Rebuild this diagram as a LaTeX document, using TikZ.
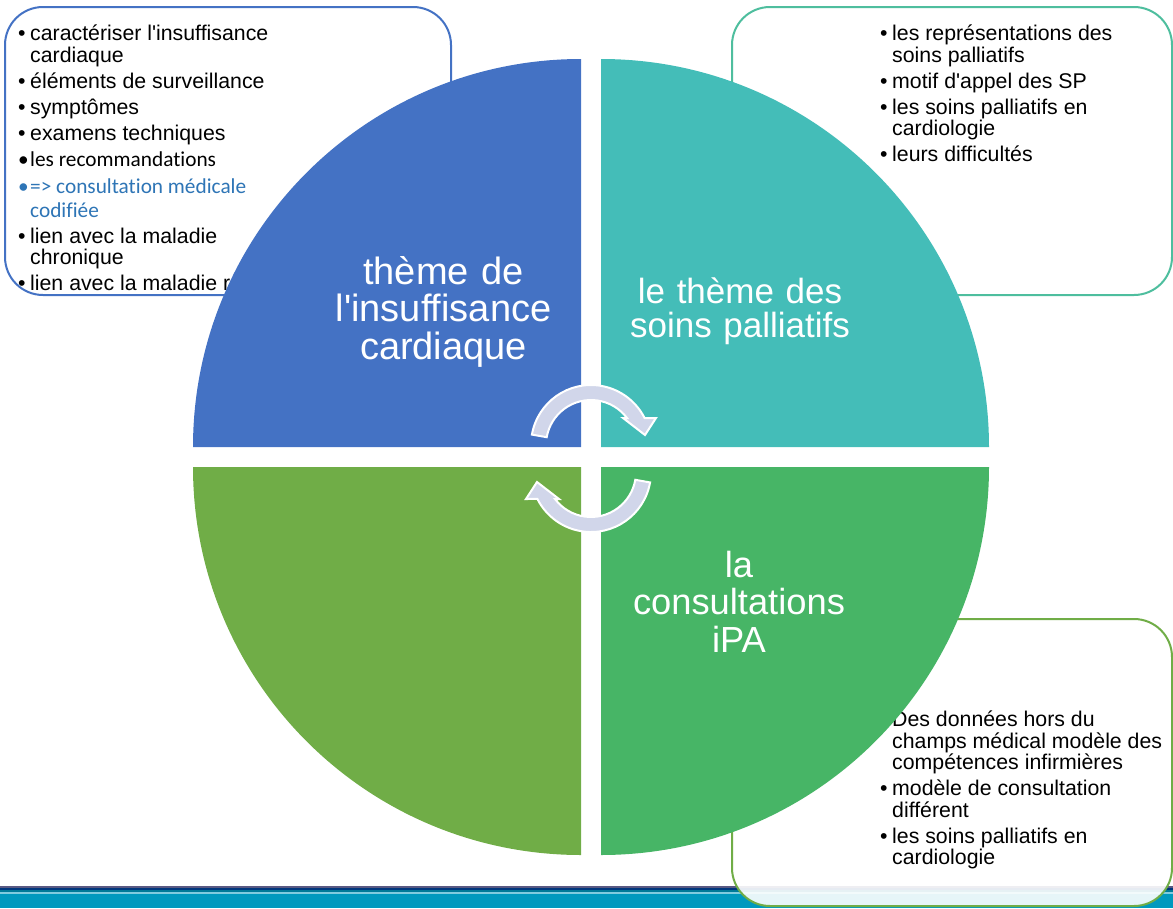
\documentclass[tikz,border=0pt]{standalone}
\usepackage{fontspec}
\setmainfont{Liberation Sans}
\newfontfamily\carlito[Ligatures=NoCommon]{Carlito}
\usetikzlibrary{positioning}

\definecolor{bleuIC}{RGB}{68,114,196}
\definecolor{turquoiseSP}{RGB}{68,189,184}
\definecolor{vertGauche}{RGB}{112,173,71}
\definecolor{vertIPA}{RGB}{71,181,102}
\definecolor{cadreSP}{RGB}{78,190,158}
\definecolor{bleuLien}{RGB}{46,117,182}
\definecolor{flecheFond}{RGB}{209,214,234}
\definecolor{bandeBleue}{RGB}{0,153,190}

\hyphenpenalty=10000
\exhyphenpenalty=10000
\newcommand{\espacefixe}{\spaceskip=\fontdimen2\font\relax}
\newcommand{\puce}[1]{\par\normalfont\fontsize{21.3}{21.5}\selectfont\espacefixe\parskip=4.5pt\hangindent=12pt\hangafter=1\noindent\color{black}\rule{0pt}{16pt}\makebox[12pt][l]{\textbullet}#1}
\newcommand{\pucec}[2]{\par\carlito\fontsize{21.3}{24}\selectfont\espacefixe\parskip=2.5pt\hangindent=12pt\hangafter=1\noindent\color{#1}\rule{0pt}{16pt}\makebox[12pt][l]{\textbullet}#2}

\begin{document}
\begin{tikzpicture}[x=1pt, y=-1pt,
  cadre/.style={line width=2pt, rounded corners=38pt, fill=white},
  liste/.style={anchor=base west, inner sep=0pt, text width=284pt, align=left},
  theme/.style={anchor=base, inner sep=0pt, text width=300pt, align=center, text=white},
  fleche/.style={fill=flecheFond, draw=white, line width=2pt}]
\useasboundingbox (0,0) rectangle (1173,908);

% bande du bas
\fill[bandeBleue] (0,893.5) rectangle (1173,908);
\fill[black!45!blue!30!gray] (0,885.5) rectangle (1173,887.5);
\fill[blue!40!teal!70!black] (0,887.5) rectangle (1173,890);
\fill[bandeBleue!80!black] (0,890) rectangle (1173,891.5);
\fill[bandeBleue!50!white] (0,891.5) rectangle (1173,893.5);

% cadres
\draw[cadre, draw=bleuIC] (5,7) rectangle (451,295);
\draw[cadre, draw=cadreSP] (732,7) rectangle (1172,295);
\draw[cadre, draw=vertGauche, fill opacity=0.9] (732,619) rectangle (1172,906);

% listes
\node[liste] (listeIC) at (18,14.5) {%
  \puce{caractériser l\textquotesingle insuffisance cardiaque}
  \puce{éléments de surveillance}
  \puce{symptômes}
  \puce{examens techniques}
  \pucec{black}{les recommandations}
  \pucec{bleuLien}{=> consultation médicale codifiée}
  \puce{lien avec la maladie chronique}
  \puce{lien avec la maladie r}\par};
\node[liste] (listeSP) at (880,14.5) {%
  \puce{les représentations des soins palliatifs}
  \puce{motif d\textquotesingle appel des SP}
  \puce{les soins palliatifs en cardiologie}
  \puce{leurs difficultés}\par};
\node[liste] (listeIPA) at (880,700.5) {%
  \puce{Des données hors du champs médical modèle des compétences infirmières}
  \puce{modèle de consultation différent}
  \puce{les soins palliatifs en cardiologie}\par};

% quadrants
\fill[bleuIC] (581,447) -- (193,447) arc[start angle=180, end angle=270, radius=388] -- cycle;
\fill[turquoiseSP] (601,447) -- (601,59) arc[start angle=270, end angle=360, radius=388] -- cycle;
\fill[vertGauche] (581,467) -- (581,855) arc[start angle=90, end angle=180, radius=388] -- cycle;
\fill[vertIPA] (601,467) -- (989,467) arc[start angle=0, end angle=90, radius=388] -- cycle;

% titres
\node[theme, font=\fontsize{38}{37.5}\selectfont\espacefixe] (themeIC) at (443.5,284) {thème de\\l\textquotesingle insuffisance\\cardiaque};
\node[theme, font=\fontsize{35}{34}\selectfont\espacefixe] (themeSP) at (740,303) {le thème des\\soins palliatifs};
\node[theme, font=\fontsize{36.3}{37.5}\selectfont\espacefixe] (themeIPA) at (739,577) {la\\consultations\\iPA};

% fleches circulaires
\begin{scope}[shift={(591,445)}, yscale=-1]
  \filldraw[fleche] (170:60) arc[start angle=170, end angle=26.7, radius=60] -- (65,27) -- (54,10) -- (32,27) -- (36,27) arc[start angle=36.9, end angle=170, radius=45] -- cycle;
\end{scope}
\begin{scope}[shift={(591,472)}, yscale=-1, rotate=180]
  \filldraw[fleche] (170:60) arc[start angle=170, end angle=26.7, radius=60] -- (65,27) -- (54,10) -- (32,27) -- (36,27) arc[start angle=36.9, end angle=170, radius=45] -- cycle;
\end{scope}
\end{tikzpicture}
\end{document}
